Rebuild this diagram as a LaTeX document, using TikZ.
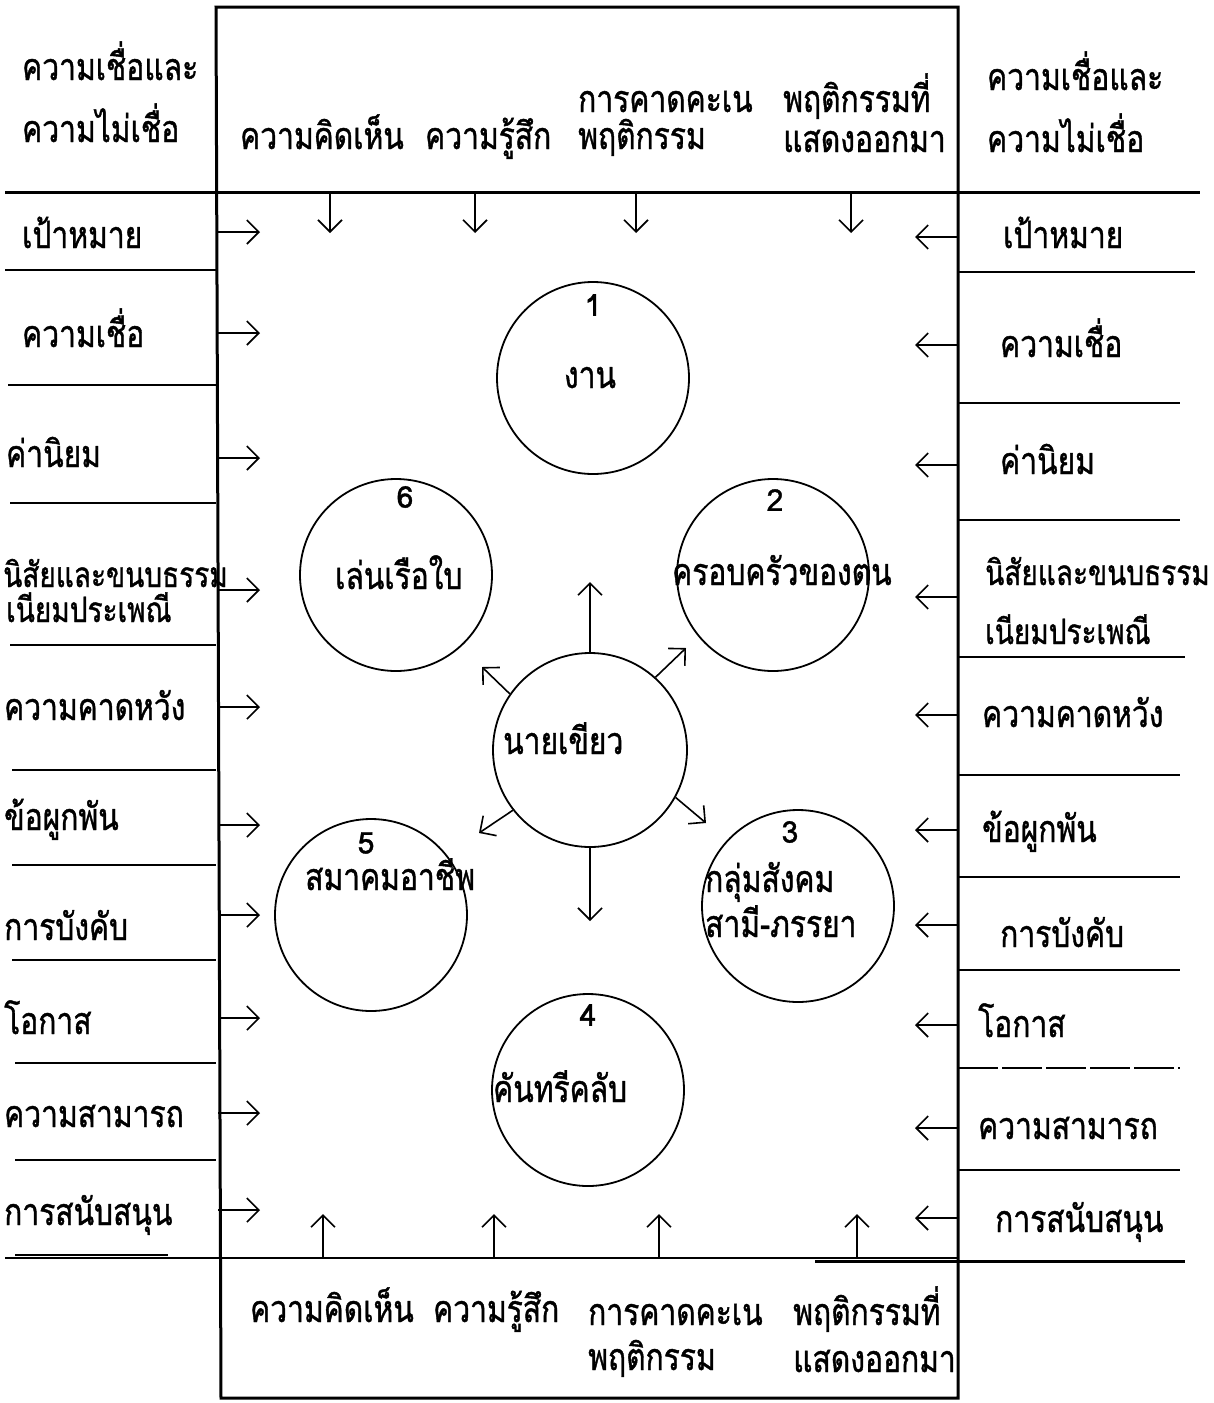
\documentclass[tikz,border=0pt]{standalone}
\usepackage{fontspec}
\newfontfamily\thai[Script=Thai, FakeBold=1.2]{Loma}
\usetikzlibrary{arrows.meta}
\newcommand\tsz{\fontsize{30}{36}\selectfont}
\newcommand\tallt[1]{\scalebox{1}[1.25]{#1}}
\begin{document}
\begin{tikzpicture}[x=1pt,y=-1pt,
  tx/.style={font=\thai\tsz, anchor=base west, inner sep=0pt},
  tc/.style={font=\thai\tsz, anchor=base, inner sep=0pt},
  small/.style={font=\thai\fontsize{28}{34}\selectfont},
  num/.style={font=\thai\fontsize{30}{34}\selectfont, inner sep=0pt},
  frame/.style={line width=3pt},
  rowline/.style={line width=2.8pt},
  arr/.style={line width=1.6pt, -{Straight Barb[length=12pt,width=24pt,line width=1.6pt]}},
  circ/.style={circle, draw, line width=1.8pt, minimum size=192pt, inner sep=0pt}]
\useasboundingbox (0,0) rectangle (1213,1403);
\clip (0,0) rectangle (1213,1403);
\fill[white] (0,0) rectangle (1213,1403);

% main frame
\draw[frame] (216,7) -- (958,7) -- (958,1398) -- (221,1398) -- cycle;
% header lines
\draw[frame] (5,192) -- (1200,192);
\draw[rowline] (5,1258) -- (958,1258);
\draw[frame] (815,1261) -- (1185,1261);

% left row lines
\foreach \y/\a in {270/5,385/8,503/10,645/10,770/12,865/12,960/12,1063/15,1160/15}
  \draw[rowline] (\a,\y) -- (216,\y);
\draw[rowline] (15,1255) -- (168,1255);
% right row lines
\foreach \y/\b in {272/1195,403/1180,520/1180,657/1185,775/1180,877/1180,970/1180,1170/1180}
  \draw[rowline] (958,\y) -- (\b,\y);
\draw[line width=1.6pt, dash pattern=on 40pt off 4pt] (958,1068) -- (1180,1068);

% header texts (top)
\node[tx] (tl1) at (22,80) {\tallt{ความเชื่อและ}};
\node[tx] (tl2) at (22,142) {\tallt{ความไม่เชื่อ}};
\node[tx] (tr1) at (987,90) {\tallt{ความเชื่อและ}};
\node[tx] (tr2) at (987,152) {\tallt{ความไม่เชื่อ}};
\node[tx] (t1) at (240,149) {\tallt{ความคิดเห็น}};
\node[tx] (t2) at (425,149) {\tallt{ความรู้สึก}};
\node[tx] (t3a) at (578,112) {\tallt{การคาดคะเน}};
\node[tx] (t3b) at (578,149) {\tallt{พฤติกรรม}};
\node[tx] (t4a) at (783,112) {\tallt{พฤติกรรมที่}};
\node[tx] (t4b) at (783,152) {\tallt{แสดงออกมา}};

% header texts (bottom)
\node[tx] (b1) at (250,1322) {\tallt{ความคิดเห็น}};
\node[tx] (b2) at (433,1322) {\tallt{ความรู้สึก}};
\node[tx] (b3a) at (588,1325) {\tallt{การคาดคะเน}};
\node[tx] (b3b) at (588,1370) {\tallt{พฤติกรรม}};
\node[tx] (b4a) at (793,1325) {\tallt{พฤติกรรมที่}};
\node[tx] (b4b) at (793,1372) {\tallt{แสดงออกมา}};

% left column texts
\node[tx] (l1) at (22,248) {\tallt{เป้าหมาย}};
\node[tx] (l2) at (22,347) {\tallt{ความเชื่อ}};
\node[tx] (l3) at (6,467) {\tallt{ค่านิยม}};
\node[tx, small] (l4a) at (3,587) {\tallt{นิสัยและขนบธรรม}};
\node[tx, small] (l4b) at (6,622) {\tallt{เนียมประเพณี}};
\node[tx] (l5) at (4,720) {\tallt{ความคาดหวัง}};
\node[tx] (l6) at (4,830) {\tallt{ข้อผูกพัน}};
\node[tx] (l7) at (4,940) {\tallt{การบังคับ}};
\node[tx] (l8) at (4,1034) {\tallt{โอกาส}};
\node[tx] (l9) at (4,1127) {\tallt{ความสามารถ}};
\node[tx] (l10) at (4,1225) {\tallt{การสนับสนุน}};

% right column texts
\node[tx] (r1) at (1003,248) {\tallt{เป้าหมาย}};
\node[tx] (r2) at (1000,357) {\tallt{ความเชื่อ}};
\node[tx] (r3) at (1000,474) {\tallt{ค่านิยม}};
\node[tx, small] (r4a) at (985,585) {\tallt{นิสัยและขนบธรรม}};
\node[tx, small] (r4b) at (985,644) {\tallt{เนียมประเพณี}};
\node[tx] (r5) at (982,727) {\tallt{ความคาดหวัง}};
\node[tx] (r6) at (982,842) {\tallt{ข้อผูกพัน}};
\node[tx] (r7) at (1000,947) {\tallt{การบังคับ}};
\node[tx] (r8) at (978,1037) {\tallt{โอกาส}};
\node[tx] (r9) at (978,1139) {\tallt{ความสามารถ}};
\node[tx] (r10) at (995,1232) {\tallt{การสนับสนุน}};

% side arrows
\foreach \y [count=\i] in {232,333,458,590,707,825,915,1018,1113,1210} {
  \coordinate (las\i) at (218,\y);
  \coordinate (lae\i) at (260,\y);
  \draw[arr] (las\i) -- (lae\i);
}
\foreach \y [count=\i] in {237,345,465,597,715,830,925,1025,1128,1218} {
  \coordinate (ras\i) at (957,\y);
  \coordinate (rae\i) at (915,\y);
  \draw[arr] (ras\i) -- (rae\i);
}
% top / bottom arrows
\foreach \x [count=\i] in {330,475,636,851} {
  \coordinate (tas\i) at (\x,193);
  \coordinate (tae\i) at (\x,233);
  \draw[arr] (tas\i) -- (tae\i);
}
\foreach \x [count=\i] in {323,494,659,857} {
  \coordinate (bas\i) at (\x,1258);
  \coordinate (bae\i) at (\x,1214);
  \draw[arr] (bas\i) -- (bae\i);
}

% circles
\node[circ] (c1) at (593,378) {};
\node[circ] (c2) at (773,575) {};
\node[circ] (c3) at (798,906) {};
\node[circ] (c4) at (588,1090) {};
\node[circ] (c5) at (371,915) {};
\node[circ] (c6) at (396,575) {};
\node[circ, minimum size=194pt] (cc) at (590,750) {};

\node[num] (n1) at (593,305) {1};
\node[num] (n2) at (775,500) {2};
\node[num] (n3) at (790,832) {3};
\node[num] (n4) at (588,1015) {4};
\node[num] (n5) at (366,843) {5};
\node[num] (n6) at (405,497) {6};

\node[tc] (w1) at (590,388) {\tallt{งาน}};
\node[tx] (w2) at (672,585) {\tallt{ครอบครัวของตน}};
\node[tx] (w3a) at (705,892) {\tallt{กลุ่มสังคม}};
\node[tx] (w3b) at (705,937) {\tallt{สามี-ภรรยา}};
\node[tx] (w4) at (493,1102) {\tallt{คันทรีคลับ}};
\node[tx] (w5) at (305,890) {\tallt{สมาคมอาชีพ}};
\node[tx] (w6) at (335,589) {\tallt{เล่นเรือใบ}};
\node[tx] (wc) at (503,754) {\tallt{นายเขียว}};

% arrows from centre
\coordinate (au) at (590,582);
\coordinate (aur) at (686,648);
\coordinate (aul) at (482,667);
\coordinate (adr) at (706,823);
\coordinate (adl) at (479,833);
\coordinate (ad) at (590,921);
\draw[arr] (cc.north) -- (au);
\draw[arr] (cc.48) -- (aur);
\draw[arr] (cc.145) -- (aul);
\draw[arr] (cc.-29) -- (adr);
\draw[arr] (cc.-142) -- (adl);
\draw[arr] (cc.south) -- (ad);
\end{tikzpicture}
\end{document}
